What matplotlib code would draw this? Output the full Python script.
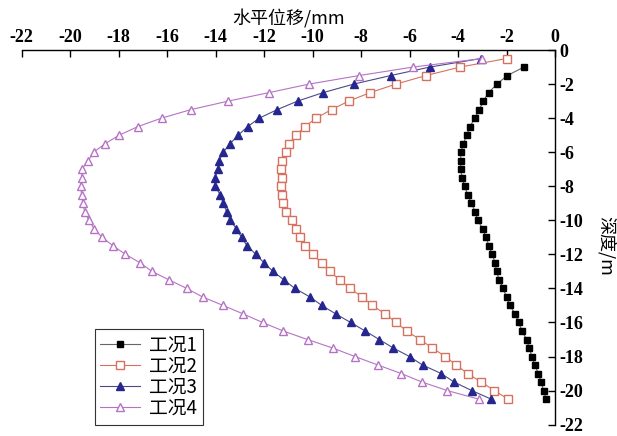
import numpy as np
import matplotlib
matplotlib.use('Agg')
import matplotlib.pyplot as plt

plt.rcParams['font.family'] = ['Liberation Serif', 'Noto Sans CJK SC']
plt.rcParams['axes.unicode_minus'] = False

# 深度 (m), 每 0.5 m 一个测点
depth = [-0.5, -1.0, -1.5, -2.0, -2.5, -3.0, -3.5, -4.0, -4.5, -5.0,
         -5.5, -6.0, -6.5, -7.0, -7.5, -8.0, -8.5, -9.0, -9.5, -10.0,
         -10.5, -11.0, -11.5, -12.0, -12.5, -13.0, -13.5, -14.0, -14.5, -15.0,
         -15.5, -16.0, -16.5, -17.0, -17.5, -18.0, -18.5, -19.0, -19.5, -20.0,
         -20.5]

# 工况1 从 -1.0 m 开始
disp1 = [-1.28, -1.97, -2.39, -2.74, -2.96, -3.12, -3.31, -3.51, -3.64, -3.78,
         -3.88, -3.89, -3.89, -3.83, -3.73, -3.60, -3.45, -3.29, -3.19, -2.98,
         -2.84, -2.73, -2.59, -2.47, -2.41, -2.30, -2.14, -2.00, -1.87, -1.64,
         -1.50, -1.36, -1.17, -1.06, -0.95, -0.83, -0.69, -0.57, -0.47, -0.37]
disp2 = [-1.99, -3.91, -5.32, -6.56, -7.62, -8.51, -9.22, -9.86, -10.31, -10.69,
         -10.97, -11.11, -11.28, -11.32, -11.25, -11.32, -11.28, -11.21, -11.11, -10.85,
         -10.69, -10.51, -10.32, -9.99, -9.63, -9.30, -8.87, -8.45, -7.96, -7.54,
         -7.00, -6.56, -6.12, -5.57, -5.06, -4.52, -4.08, -3.60, -3.04, -2.50,
         -1.93]
disp3 = [-3.05, -5.16, -6.78, -8.30, -9.56, -10.62, -11.46, -12.20, -12.68, -13.07,
         -13.40, -13.69, -13.85, -13.91, -14.02, -14.02, -13.81, -13.69, -13.54, -13.40,
         -13.14, -12.93, -12.70, -12.34, -12.00, -11.63, -11.18, -10.73, -10.11, -9.62,
         -9.04, -8.43, -7.83, -7.25, -6.67, -6.00, -5.46, -4.69, -4.16, -3.43,
         -2.63]
disp4 = [-3.00, -5.85, -8.08, -10.14, -11.79, -13.48, -15.02, -16.23, -17.21, -17.98,
         -18.56, -19.03, -19.26, -19.52, -19.52, -19.57, -19.53, -19.48, -19.40, -19.23,
         -19.01, -18.68, -18.23, -17.72, -17.11, -16.63, -15.92, -15.19, -14.54, -13.69,
         -12.86, -12.06, -11.21, -10.21, -9.17, -8.25, -7.30, -6.34, -5.48, -4.44,
         -3.15]

labels = ['工况1', '工况2', '工况3', '工况4']
ticks = [-22, -20, -18, -16, -14, -12, -10, -8, -6, -4, -2, 0]

fig = plt.figure(figsize=(6.17, 4.36), dpi=100)
ax = fig.add_axes([0.0352, 0.026, 0.8643, 0.8593])

ax.plot(disp1, depth[1:], color='#666666', lw=0.8, marker='s', ms=5,
        mfc='black', mec='black', label=labels[0])
ax.plot(disp2, depth, color='#d4725f', lw=0.8, marker='s', ms=6,
        mfc='white', mec='#d4725f', mew=1.0, label=labels[1])
ax.plot(disp3, depth, color='#4a4a8a', lw=0.8, marker='^', ms=6,
        mfc='#26268f', mec='#26268f', label=labels[2])
ax.plot(disp4, depth, color='#b673c4', lw=0.8, marker='^', ms=6,
        mfc='white', mec='#b673c4', mew=1.0, label=labels[3])

ax.set_xlim(-22, 0)
ax.set_ylim(-22, 0)
ax.set_xticks(ticks)
ax.set_yticks(ticks)
ax.xaxis.tick_top()
ax.yaxis.tick_right()
ax.spines['left'].set_visible(False)
ax.spines['bottom'].set_visible(False)
for s in ['top', 'right']:
    ax.spines[s].set_linewidth(1.0)
ax.tick_params(direction='in', length=5, width=1.0, labelsize=13, pad=3)
for lb in ax.get_xticklabels() + ax.get_yticklabels():
    lb.set_fontweight('bold')

ax.set_xlabel('水平位移/mm', fontsize=13, labelpad=3,
              family=['Noto Sans CJK SC', 'Liberation Serif'])
ax.xaxis.set_label_position('top')
fig.text(0.982, 0.435, '深度/m', fontsize=13, rotation=270, ha='center', va='center',
         family=['Noto Sans CJK SC', 'Liberation Serif'])

leg = ax.legend(loc='lower left', bbox_to_anchor=(0.137, 0.0), borderaxespad=0,
                fancybox=False, edgecolor='#333333', framealpha=1, handlelength=2.1,
                borderpad=0.3, labelspacing=0.0, handletextpad=0.5,
                prop={'family': ['Noto Sans CJK SC'], 'size': 13.5})
leg.get_frame().set_linewidth(0.8)

fig.savefig('out.png', dpi=100)
